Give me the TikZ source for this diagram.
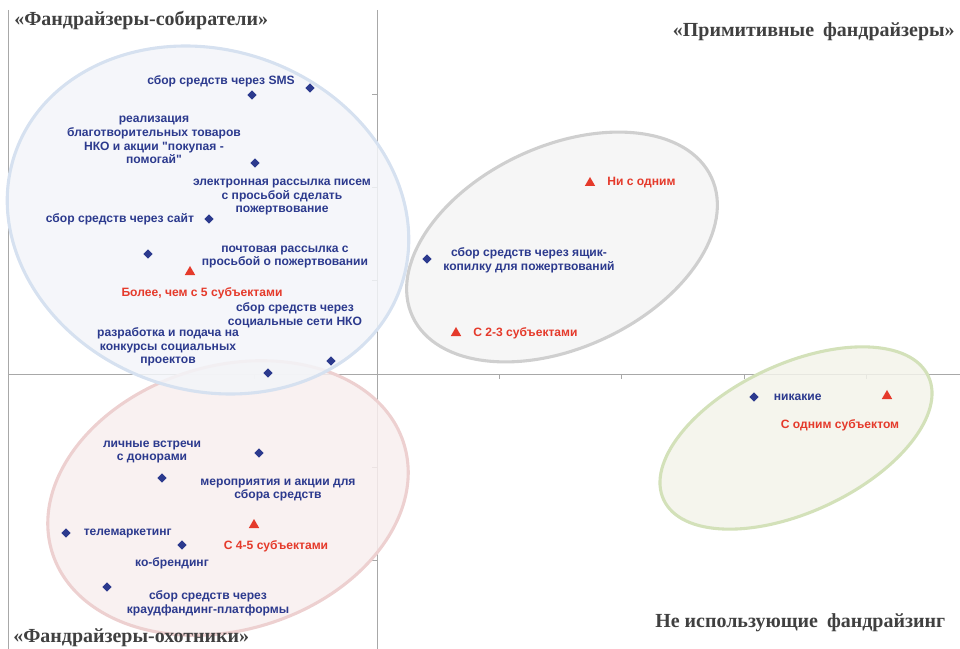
\documentclass[tikz,border=0pt]{standalone}
\usepackage{fontspec}
\setmainfont{Liberation Serif}
\newfontfamily\lblfont{Liberation Sans}
\usetikzlibrary{positioning, shapes.geometric}
\definecolor{ptblue}{HTML}{2C3A8E}
\definecolor{ptred}{HTML}{E53A2B}
\definecolor{axgray}{HTML}{A8A8A8}
\definecolor{ttlgray}{HTML}{404040}
\definecolor{bluefill}{HTML}{F3F5F9}
\definecolor{blueline}{HTML}{D6E1F0}
\definecolor{pinkfill}{HTML}{F8EEEE}
\definecolor{pinkline}{HTML}{EDD0D0}
\definecolor{grayfill}{HTML}{F4F4F4}
\definecolor{grayline}{HTML}{CFCFCF}
\definecolor{greenfill}{HTML}{F3F3EA}
\definecolor{greenline}{HTML}{D3E1B9}

\begin{document}
\begin{tikzpicture}[x=0.025cm, y=-0.025cm,
  axis/.style={draw=axgray, line width=0.7pt},
  zone/.style={line width=2.2pt, fill opacity=0.85},
  dmark/.style={diamond, fill=ptblue, inner sep=0pt, minimum size=0.24cm},
  tmark/.style={regular polygon, regular polygon sides=3, fill=ptred,
                inner sep=0pt, minimum size=0.30cm},
  lbl/.style={font=\lblfont\bfseries\fontsize{8.6}{9.8}\selectfont,
              text=ptblue, align=center, inner sep=0pt},
  rlbl/.style={lbl, text=ptred},
  ttl/.style={font=\bfseries\fontsize{14.2}{16}\selectfont, text=ttlgray, inner sep=0pt}]
  \useasboundingbox (0,0) rectangle (960,649);
  % axes
  \draw[axis] (8,10) -- (8,649);
  \draw[axis] (377,10) -- (377,649);
  \draw[axis] (8,374) -- (960,374);
  \foreach \ty in {94,187,280,467,560} \draw[axis] (372,\ty) -- (377,\ty);
  \foreach \tx in {254,499,621,744,866} \draw[axis] (\tx,374) -- (\tx,379);
  % zones
  \draw[zone, draw=pinkline, fill=pinkfill, rotate around={17:(228,498)}]
    (228,498) ellipse [x radius=4.6cm, y radius=3.3cm];
  \draw[zone, draw=blueline, fill=bluefill, rotate around={-19:(208,220)}]
    (208,220) ellipse [x radius=5.1cm, y radius=4.25cm];
  \draw[zone, draw=grayline, fill=grayfill, rotate around={25:(562,247)}]
    (562,247) ellipse [x radius=4.12cm, y radius=2.52cm];
  \draw[zone, draw=greenline, fill=greenfill, rotate around={25:(796,438)}]
    (796,438) ellipse [x radius=3.65cm, y radius=1.85cm];
  % titles
  \node[ttl, anchor=base west] (tCollect) at (14,26) {«Фандрайзеры-собиратели»};
  \node[ttl, anchor=base east] (tPrim) at (955,37) {«Примитивные\hspace{0.45em}фандрайзеры»};
  \node[ttl, anchor=base west] (tHunt) at (13,642) {«Фандрайзеры-охотники»};
  \node[ttl, anchor=base west] (tNone) at (655,627) {Не использующие\hspace{0.45em}фандрайзинг};
  % collectors
  \node[dmark] (dSms) at (310,88) {};
  \node[dmark] (dSmsB) at (252,95) {};
  \node[dmark] (dGoods) at (255,163) {};
  \node[dmark] (dSite) at (209,219) {};
  \node[dmark] (dMail) at (148,254) {};
  \node[dmark] (dSocial) at (331,361) {};
  \node[dmark] (dGrant) at (268,373) {};
  \node[tmark] (tMore) at (190,272) {};
  \node[lbl] (lSms) at (221,81) {сбор средств через SMS};
  \node[lbl] (lGoods) at (154,140) {реализация\\благотворительных товаров\\НКО и акции "покупая -\\помогай"};
  \node[lbl] (lEmail) at (282,197) {электронная рассылка писем\\с просьбой сделать\\пожертвование};
  \node[lbl, left=0.24cm of dSite] (lSite) {сбор средств через сайт};
  \node[lbl] (lMail) at (285,257) {почтовая рассылка с\\просьбой о пожертвовании};
  \node[rlbl] (lMore) at (202,293) {Более, чем с 5 субъектами};
  \node[lbl] (lSocial) at (295,315) {сбор средств через\\социальные сети НКО};
  \node[lbl] (lGrant) at (168,347) {разработка и подача на\\конкурсы социальных\\проектов};
  % primitive
  \node[tmark] (tZero) at (590,183) {};
  \node[dmark] (dBox) at (427,259) {};
  \node[tmark] (tTwo) at (456,333) {};
  \node[rlbl, right=0.33cm of tZero] (lZero) {Ни с одним};
  \node[lbl] (lBox) at (529,260) {сбор средств через ящик-\\копилку для пожертвований};
  \node[rlbl, right=0.33cm of tTwo] (lTwo) {С 2-3 субъектами};
  % not using
  \node[dmark] (dNone) at (754,397) {};
  \node[tmark] (tOne) at (887,396) {};
  \node[lbl, right=0.36cm of dNone] (lNone) {никакие};
  \node[rlbl] (lOne) at (840,425) {С одним субъектом};
  % hunters
  \node[dmark] (dEvent) at (259,453) {};
  \node[dmark] (dMeet) at (162,478) {};
  \node[tmark] (tFour) at (254,525) {};
  \node[dmark] (dTele) at (66,533) {};
  \node[dmark] (dBrand) at (182,545) {};
  \node[dmark] (dCrowd) at (107,587) {};
  \node[lbl] (lMeet) at (152,452) {личные встречи\\с донорами};
  \node[lbl] (lEvent) at (278,490) {мероприятия и акции для\\сбора средств};
  \node[lbl, right=0.31cm of dTele] (lTele) {телемаркетинг};
  \node[rlbl] (lFour) at (276,546) {С 4-5 субъектами};
  \node[lbl] (lBrand) at (172,563) {ко-брендинг};
  \node[lbl] (lCrowd) at (208,603) {сбор средств через\\краудфандинг-платформы};
\end{tikzpicture}
\end{document}
